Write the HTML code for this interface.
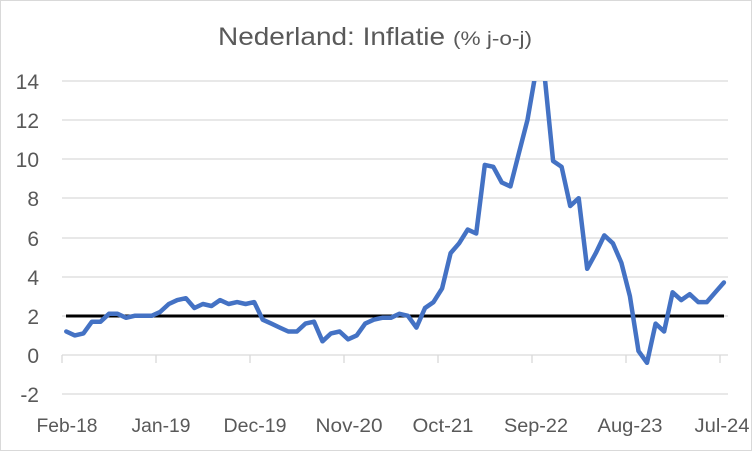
<!DOCTYPE html>
<html><head><meta charset="utf-8"><style>
html,body{margin:0;padding:0;background:#fff}
svg{display:block}
text{font-family:"Liberation Sans",sans-serif;fill:#595959}
</style></head><body>
<svg width="752" height="451" viewBox="0 0 752 451" xmlns="http://www.w3.org/2000/svg">
<rect x="0.5" y="0.5" width="751" height="450" fill="#fff" stroke="#d9d9d9"/>
<text x="218" y="45" font-size="25" textLength="227" lengthAdjust="spacingAndGlyphs">Nederland: Inflatie</text>
<text x="453" y="45" font-size="19" textLength="79" lengthAdjust="spacingAndGlyphs">(% j-o-j)</text>
<g stroke="#d9d9d9" stroke-width="1.3">
<line x1="62" x2="728" y1="81" y2="81"/><line x1="62" x2="728" y1="120" y2="120"/>
<line x1="62" x2="728" y1="159" y2="159"/><line x1="62" x2="728" y1="198" y2="198"/>
<line x1="62" x2="728" y1="238" y2="238"/><line x1="62" x2="728" y1="277" y2="277"/>
<line x1="62" x2="728" y1="316" y2="316"/><line x1="62" x2="728" y1="355" y2="355"/>
<line x1="62" x2="728" y1="394" y2="394"/>
<line x1="62" x2="62" y1="355" y2="363"/><line x1="156" x2="156" y1="355" y2="363"/>
<line x1="250" x2="250" y1="355" y2="363"/><line x1="344" x2="344" y1="355" y2="363"/>
<line x1="438" x2="438" y1="355" y2="363"/><line x1="532" x2="532" y1="355" y2="363"/>
<line x1="626" x2="626" y1="355" y2="363"/><line x1="720" x2="720" y1="355" y2="363"/>
</g>
<g font-size="21" text-anchor="end">
<text x="39" y="89">14</text><text x="39" y="128">12</text><text x="39" y="167">10</text>
<text x="39" y="206">8</text><text x="39" y="246">6</text><text x="39" y="285">4</text>
<text x="39" y="324">2</text><text x="39" y="363">0</text><text x="39" y="402">-2</text>
</g>
<g font-size="19" text-anchor="middle">
<text x="67" y="432" textLength="61" lengthAdjust="spacingAndGlyphs">Feb-18</text>
<text x="161" y="432" textLength="59" lengthAdjust="spacingAndGlyphs">Jan-19</text>
<text x="255" y="432" textLength="63" lengthAdjust="spacingAndGlyphs">Dec-19</text>
<text x="349" y="432" textLength="67" lengthAdjust="spacingAndGlyphs">Nov-20</text>
<text x="443" y="432" textLength="61" lengthAdjust="spacingAndGlyphs">Oct-21</text>
<text x="536" y="432" textLength="64" lengthAdjust="spacingAndGlyphs">Sep-22</text>
<text x="630" y="432" textLength="65" lengthAdjust="spacingAndGlyphs">Aug-23</text>
<text x="722" y="432" textLength="55" lengthAdjust="spacingAndGlyphs">Jul-24</text>
</g>
<line x1="66" x2="724" y1="316" y2="316" stroke="#000" stroke-width="3"/>
<clipPath id="c"><rect x="0" y="81" width="752" height="370"/></clipPath>
<polyline clip-path="url(#c)" fill="none" stroke="#4472c4" stroke-width="4.5" stroke-linejoin="round" stroke-linecap="round" points="66.3,331.5 74.8,335.4 83.4,333.4 91.9,321.7 100.5,321.7 109.0,313.8 117.5,313.8 126.1,317.8 134.6,315.8 143.2,315.8 151.7,315.8 160.2,311.9 168.8,304.0 177.3,300.1 185.9,298.2 194.4,308.0 202.9,304.0 211.5,306.0 220.0,300.1 228.6,304.0 237.1,302.1 245.6,304.0 254.2,302.1 262.7,319.7 271.3,323.6 279.8,327.6 288.3,331.5 296.9,331.5 305.4,323.6 314.0,321.7 322.5,341.3 331.0,333.4 339.6,331.5 348.1,339.3 356.7,335.4 365.2,323.6 373.7,319.7 382.3,317.8 390.8,317.8 399.4,313.8 407.9,315.8 416.4,327.6 425.0,308.0 433.5,302.1 442.1,288.4 450.6,253.1 459.1,243.3 467.7,229.6 476.2,233.5 484.8,164.9 493.3,166.8 501.8,182.5 510.4,186.4 518.9,153.1 527.5,119.8 536.0,70.8 544.5,74.7 553.1,161.0 561.6,166.8 570.2,206.0 578.7,198.2 587.2,268.8 595.8,253.1 604.3,235.4 612.9,243.3 621.4,262.9 629.9,296.2 638.5,351.1 647.0,362.8 655.6,323.6 664.1,331.5 672.6,292.3 681.2,300.1 689.7,294.2 698.3,302.1 706.8,302.1 715.3,292.3 723.9,282.5"/>
</svg>
</body></html>
